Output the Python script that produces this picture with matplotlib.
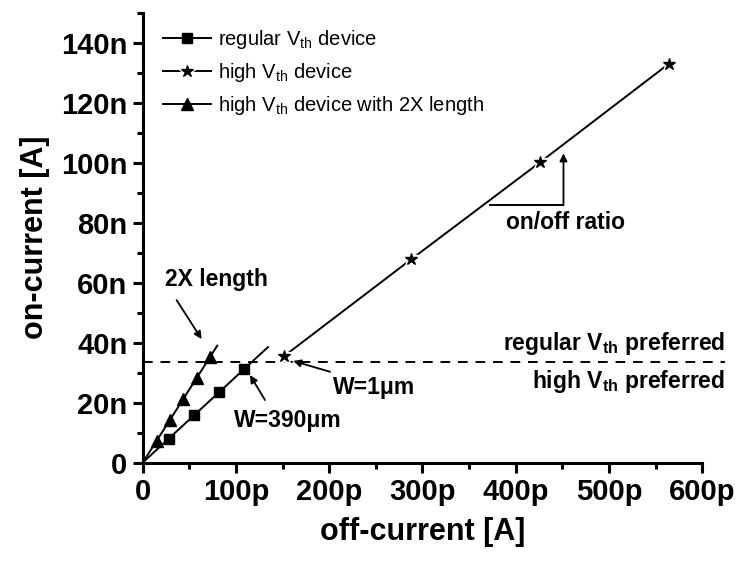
import numpy as np
import matplotlib
matplotlib.use("Agg")
import matplotlib.pyplot as plt
from matplotlib.lines import Line2D

plt.rcParams['font.family'] = ['Liberation Sans', 'DejaVu Sans']
plt.rcParams['mathtext.fontset'] = 'custom'
plt.rcParams['mathtext.rm'] = 'Liberation Sans'
plt.rcParams['mathtext.bf'] = 'Liberation Sans:bold'
plt.rcParams['mathtext.it'] = 'Liberation Sans:italic'

# off-current in pA, on-current in nA
regular_off = [28, 55, 82, 109]
regular_on = [7.8, 15.8, 23.5, 31.3]

high_off = [152, 288, 426, 564]
high_on = [35.6, 67.8, 100.1, 132.9]

long_off = [15.0, 29.3, 43.6, 57.9, 72.2]
long_on = [7.2, 14.2, 21.1, 28.3, 35.3]

# extent of the fitted lines through the origin
regular_fit_end = 134.4
long_fit_end = 80.0

crossover_on = 33.7

x_ticks = [0, 100, 200, 300, 400, 500, 600]
x_tick_labels = ['0', '100p', '200p', '300p', '400p', '500p', '600p']
y_ticks = [0, 20, 40, 60, 80, 100, 120, 140]
y_tick_labels = ['0', '20n', '40n', '60n', '80n', '100n', '120n', '140n']

fig = plt.figure(figsize=(7.43, 5.62), dpi=100)
ax = fig.add_axes([0.192, 0.1767, 0.945 - 0.192, 0.9774 - 0.1767])

lw = 1.4

# fitted lines through the origin
def origin_slope(x, y):
    x = np.asarray(x, float)
    y = np.asarray(y, float)
    return np.sum(x * y) / np.sum(x * x)

s_reg = origin_slope(regular_off, regular_on)
ax.plot([0, regular_fit_end], [0, s_reg * regular_fit_end], color='black', lw=lw, zorder=3)
s_long = origin_slope(long_off, long_on)
ax.plot([0, long_fit_end], [0, s_long * long_fit_end], color='black', lw=lw, zorder=3)

ax.plot(regular_off, regular_on, linestyle='none', marker='s', ms=7, color='black', zorder=4)
ax.plot(long_off, long_on, linestyle='none', marker='^', ms=8, color='black', zorder=4)

# high Vth device: line broken around each star
ax.plot(high_off, high_on, color='black', lw=lw, zorder=3)
ax.plot(high_off, high_on, linestyle='none', marker='*', ms=17, color='white', zorder=4)
ax.plot(high_off, high_on, linestyle='none', marker='*', ms=9, color='black', zorder=5)

# crossover line
ax.plot([0, 625], [crossover_on, crossover_on], color='black', lw=lw,
        linestyle=(0, (5, 4)), clip_on=False, zorder=2)

ax.set_xlim(0, 600)
ax.set_ylim(0, 150)
ax.set_xticks(x_ticks)
ax.set_xticklabels(x_tick_labels)
ax.set_yticks(y_ticks)
ax.set_yticklabels(y_tick_labels)
ax.set_xticks(np.arange(50, 600, 100), minor=True)
ax.set_yticks(np.arange(10, 151, 20), minor=True)

for side in ['top', 'right']:
    ax.spines[side].set_visible(False)
for side in ['left', 'bottom']:
    ax.spines[side].set_linewidth(2.2)

ax.tick_params(which='major', direction='out', length=7, width=2.2,
               labelsize=21, pad=4)
ax.tick_params(which='minor', direction='out', length=4, width=2.2)
for lab in ax.get_xticklabels() + ax.get_yticklabels():
    lab.set_fontweight('bold')

ax.set_xlabel('off-current [A]', fontsize=22, fontweight='bold', labelpad=8)
ax.set_ylabel('on-current [A]', fontsize=22, fontweight='bold', labelpad=8)

# annotations
arrow = dict(arrowstyle='-|>', color='black', lw=1.3, mutation_scale=11,
             shrinkA=0, shrinkB=0)
ann_font = dict(fontsize=16.5, fontweight='bold', ha='center', va='center')

ax.annotate('', xy=(63.2, 41.2), xytext=(36.4, 54.2), arrowprops=arrow)
ax.text(78.8, 60.9, '2X length', **ann_font)

ax.annotate('', xy=(115.1, 29.2), xytext=(131.2, 20.9), arrowprops=arrow)
ax.text(156, 14.2, 'W=390μm', **ann_font)

ax.annotate('', xy=(161.5, 33.9), xytext=(201, 30.3), arrowprops=arrow)
ax.text(248, 24.9, 'W=1μm', **ann_font)

# on/off ratio bracket
ax.plot([372.6, 451.3], [85.9, 85.9], color='black', lw=1.4, zorder=3)
ax.annotate('', xy=(451.3, 103.1), xytext=(451.3, 85.9), arrowprops=arrow)
ax.text(454, 80.2, 'on/off ratio', **ann_font)

ax.text(624.8, 39.7, r'regular V$_{\mathbf{th}}$ preferred', fontsize=16.5,
        fontweight='bold', ha='right', va='center', clip_on=False)
ax.text(624.8, 26.9, r'high V$_{\mathbf{th}}$ preferred', fontsize=16.5,
        fontweight='bold', ha='right', va='center', clip_on=False)

# legend
h_reg = Line2D([], [], color='black', lw=lw, marker='s', ms=7)
h_high = (Line2D([], [], color='black', lw=lw),
          Line2D([], [], linestyle='none', marker='*', ms=17, color='white'),
          Line2D([], [], linestyle='none', marker='*', ms=9, color='black'))
h_long = Line2D([], [], color='black', lw=lw, marker='^', ms=8)
ax.legend([h_reg, h_high, h_long],
          [r'regular V$_{\rm th}$ device', r'high V$_{\rm th}$ device',
           r'high V$_{\rm th}$ device with 2X length'],
          loc='upper left', bbox_to_anchor=(0.022, 0.984), frameon=False,
          fontsize=14.5, handlelength=2.4, handletextpad=0.35, labelspacing=0.5,
          borderaxespad=0.0, borderpad=0.4)

fig.savefig('out.png', dpi=100)
